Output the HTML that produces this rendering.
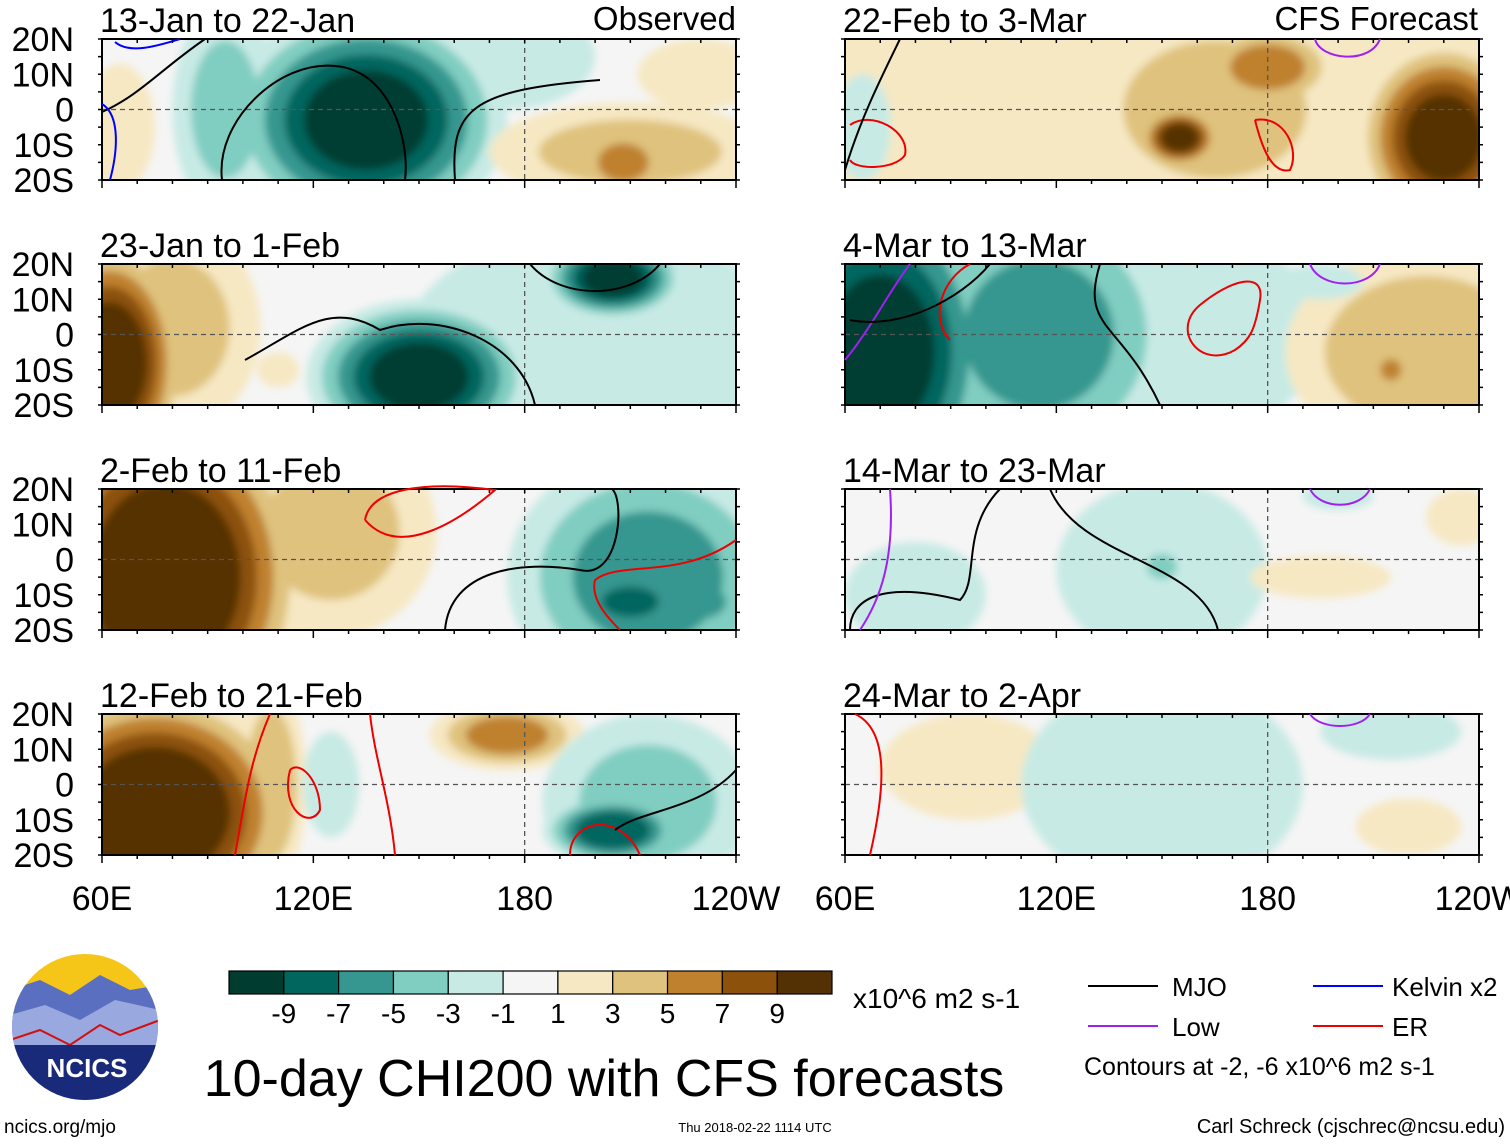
<!DOCTYPE html>
<html><head><meta charset="utf-8">
<style>
body{margin:0;background:#fff;width:1510px;height:1142px;overflow:hidden;font-family:"Liberation Sans",sans-serif;}
svg text{font-family:"Liberation Sans",sans-serif;}
</style></head>
<body>
<svg id="fig" width="1510" height="1142" viewBox="0 0 1510 1142" xmlns="http://www.w3.org/2000/svg">
<defs>
<filter id="blur" x="-20%" y="-20%" width="140%" height="140%"><feGaussianBlur stdDeviation="4"/></filter>
</defs>
</svg>
<script>
// Data arrays
const levels = [-9,-7,-5,-3,-1,1,3,5,7,9];
const levelLabels = ["-9","-7","-5","-3","-1","1","3","5","7","9"];
const palette = ["#003c30","#01665e","#35978f","#80cdc1","#c7eae5","#f5f5f5","#f6e8c3","#dfc27d","#bf812d","#8c510a","#543005"];
const panelTitles = ["13-Jan to 22-Jan","23-Jan to 1-Feb","2-Feb to 11-Feb","12-Feb to 21-Feb","22-Feb to 3-Mar","4-Mar to 13-Mar","14-Mar to 23-Mar","24-Mar to 2-Apr"];
const latTicks = ["20N","10N","0","10S","20S"];
const lonTicks = ["60E","120E","180","120W"];
const lonTickValues = [60,120,180,240];
// anomaly centers per panel: [lon, lat, lonRadius, latRadius, peak value]
const panel1 = [[65,-5,10,18,2],[175,15,25,15,-3],[95,0,15,30,-4],[135,-3,40,32,-10],[210,-12,40,14,4],[208,-15,12,9,7],[230,10,18,10,2]];
const panel2 = [[80,2,25,30,4],[62,-8,22,35,11],[200,-5,55,35,-2.5],[150,-12,32,22,-10],[205,16,20,12,-10],[110,-10,6,5,2]];
const panel3 = [[125,8,30,30,4],[78,-5,40,50,12],[215,-5,40,35,-6],[210,-12,15,8,-9],[230,-12,12,8,-7],[175,0,20,10,-1]];
const panel4 = [[75,-8,40,35,12],[108,0,10,30,5],[175,14,22,10,6],[125,0,8,15,-3],[215,-5,30,25,-4],[205,-13,20,10,-9]];
const panel5 = [[150,0,110,45,2.5],[165,0,40,30,4],[180,12,20,12,6],[155,-8,12,9,10],[230,-8,25,28,10],[65,-5,8,15,-3]];
const panel6 = [[155,0,40,30,-3],[115,0,40,40,-6],[70,-5,35,50,-10],[225,-5,40,30,5],[215,-10,5,5,7],[195,15,12,5,-3]];
const panel7 = [[150,-3,30,25,-3],[150,-2,6,5,-5],[80,-10,20,15,-2],[200,18,10,4,-3],[195,-5,20,6,2],[235,12,10,8,2]];
const panel8 = [[95,5,25,15,2.5],[150,0,40,30,-2],[215,15,20,8,-2],[220,-12,15,8,2.5]];
const panels = [panel1,panel2,panel3,panel4,panel5,panel6,panel7,panel8];

const NS="http://www.w3.org/2000/svg";
const svg=document.getElementById('fig');
function mk(tag,attrs,parent){const e=document.createElementNS(NS,tag);for(const k in attrs)e.setAttribute(k,attrs[k]);(parent||svg).appendChild(e);return e;}
const PW=634,PH=141;
const colX=[102,845], rowY=[39,264,489,714];
function xScale(lon){return (lon-60)/180*PW;}
function yScale(lat){return (20-lat)/40*PH;}
function colorFor(v){let i=0;while(i<levels.length&&v>levels[i])i++;return palette[i];}

panels.forEach((blobs,p)=>{
  const ox=colX[Math.floor(p/4)], oy=rowY[p%4];
  const g=mk('g',{transform:`translate(${ox},${oy})`});
  
  
  const cid='clip'+p;
  const cp=mk('clipPath',{id:cid},g);mk('rect',{x:0,y:0,width:PW,height:PH},cp);
  const inner=mk('g',{'clip-path':`url(#${cid})`},g);
  mk('rect',{x:0,y:0,width:PW,height:PH,fill:palette[5]},inner);
  const fg=mk('g',{filter:'url(#blur)'},inner);
  // draw shells level by level across all blobs so inner levels are never covered by outer ones
  const shells=[];
  blobs.forEach(b=>{
    const [lon,lat,rl,rt,val]=b;const s=Math.sign(val),a=Math.abs(val);
    for(let t=1;t<a;t+=2){shells.push({t:t,lon:lon,lat:lat,rl:rl,rt:rt,s:s,a:a});}
  });
  shells.sort((u,v)=>u.t-v.t);
  shells.forEach(sh=>{
    const f=1-(sh.t-1)/sh.a*0.7;
    const e=mk('ellipse',{cx:xScale(sh.lon),cy:yScale(sh.lat),rx:sh.rl/180*PW*f,ry:sh.rt/40*PH*f,fill:colorFor(sh.s*(sh.t+0.5))},fg);
    
    
  });
  mk('line',{x1:0,x2:PW,y1:yScale(0),y2:yScale(0),stroke:'#555','stroke-dasharray':'5,4','stroke-width':1.3},inner);
  mk('line',{x1:xScale(180),x2:xScale(180),y1:0,y2:PH,stroke:'#555','stroke-dasharray':'5,4','stroke-width':1.3},inner);
  mk('rect',{x:0,y:0,width:PW,height:PH,fill:'none',stroke:'#000','stroke-width':2},g);
  for(let lon=60;lon<=240;lon+=10){const x=xScale(lon),L=(lon%60==0)?8:4;
    mk('line',{x1:x,x2:x,y1:0,y2:4,stroke:'#000','stroke-width':1.5},g);
    mk('line',{x1:x,x2:x,y1:PH,y2:PH+L,stroke:'#000','stroke-width':1.5},g);}
  for(let lat=-20;lat<=20;lat+=5){const y=yScale(lat);
    mk('line',{x1:0,x2:-4,y1:y,y2:y,stroke:'#000','stroke-width':1.5},g);
    mk('line',{x1:PW,x2:PW+4,y1:y,y2:y,stroke:'#000','stroke-width':1.5},g);}
  const t=mk('text',{x:-2,y:-7,'font-size':34},g);t.textContent=panelTitles[p];
  
  
  if(p<4){latTicks.forEach((l,i)=>{const tt=mk('text',{x:-28,y:yScale(20-i*10)+12,'font-size':34,'text-anchor':'end'},g);tt.textContent=l;
    
    });}
  if(p%4==3){lonTicks.forEach((l,i)=>{const tt=mk('text',{x:xScale(lonTickValues[i]),y:PH+55,'font-size':34,'text-anchor':'middle'},g);tt.textContent=l;
    
    });}
});
function cl(d,c){const e=mk('path',{d:d,fill:'none',stroke:c,'stroke-width':2});}
cl('M222,180 C215,120 280,60 335,66 C390,70 410,140 405,180','#000');
cl('M102,112 C140,95 160,70 205,39','#000');
cl('M455,180 C450,110 470,90 600,80','#000');
cl('M115,42 C130,55 160,45 180,39','#00f');
cl('M102,104 C120,115 118,150 110,180','#00f');
cl('M245,360 C300,330 330,300 380,330 C440,310 520,340 535,405','#000');
cl('M530,264 C560,300 630,300 660,264','#000');
cl('M1235,350 C1200,370 1170,330 1200,305 C1230,280 1265,270 1260,300 C1255,330 1250,340 1235,350','#e00');
cl('M950,340 C930,320 940,280 970,264','#e00');
cl('M845,360 C870,330 890,290 910,264','#a020f0');
cl('M850,320 C900,330 960,300 990,264','#000');
cl('M1100,264 C1080,330 1120,320 1160,405','#000');
cl('M365,520 C370,490 420,480 495,490 C460,520 400,560 365,520','#e00');
cl('M445,630 C450,570 520,560 580,570 C620,580 625,500 612,489','#000');
cl('M595,580 C620,560 680,580 736,540 M595,580 C590,600 610,620 620,630','#e00');
cl('M1050,489 C1080,560 1200,560 1218,630','#000');
cl('M850,630 C850,600 880,580 960,600 C980,580 960,530 1000,489','#000');
cl('M860,630 C880,600 895,560 890,489','#a020f0');
cl('M235,855 C245,800 250,760 270,714','#e00');
cl('M370,714 C375,760 390,800 395,855','#e00');
cl('M290,770 C300,760 320,780 320,810 C310,830 280,810 290,770','#e00');
cl('M570,855 C570,820 620,810 640,855','#e00');
cl('M615,830 C640,810 700,810 736,770','#000');
cl('M1255,120 C1260,140 1270,175 1290,170 C1300,150 1285,115 1255,120','#e00');
cl('M850,125 C870,110 910,130 905,155 C895,170 855,170 850,160','#e00');
cl('M845,170 C860,120 880,80 900,39','#000');
cl('M855,714 C890,730 885,790 870,855','#e00');
cl('M1315,39 C1320,60 1370,65 1380,39','#a020f0');
cl('M1310,264 C1320,290 1370,290 1380,264','#a020f0');
cl('M1310,489 C1320,510 1360,510 1370,489','#a020f0');
cl('M1310,714 C1320,730 1360,730 1370,714','#a020f0');

const cb=mk('g',{});
const cbx=229,cbw=603/11;
palette.forEach((c,i)=>{mk('rect',{x:cbx+i*cbw,y:971,width:cbw,height:23,fill:c,stroke:'#000','stroke-width':1.2},cb);});
levelLabels.forEach((l,i)=>{const t=mk('text',{x:cbx+(i+1)*cbw,y:1023,'font-size':28,'text-anchor':'middle'},cb);t.textContent=l;});
function txt(x,y,s,size,name,anchor){const t=mk('text',{x:x,y:y,'font-size':size,'text-anchor':anchor||'start'});t.textContent=s;return t;}
txt(853,1008,'x10^6 m2 s-1',28,'colorbar-units');
txt(604,1096,'10-day CHI200 with CFS forecasts',52,'figure-title','middle');
txt(736,30,'Observed',33,'observed-label','end');
txt(1478,30,'CFS Forecast',33,'forecast-label','end');
const lg=[[1088,'#000','MJO',1172,987],[1313,'#00f','Kelvin x2',1392,987],[1088,'#a020f0','Low',1172,1027],[1313,'#e00','ER',1392,1027]];
lg.forEach(r=>{const l=mk('line',{x1:r[0],x2:r[0]+70,y1:r[4]-1,y2:r[4]-1,stroke:r[1],'stroke-width':2});txt(r[3],r[4]+9,r[2],26,'legend-entry');});
txt(1084,1075,'Contours at -2, -6 x10^6 m2 s-1',25,'contour-note');
txt(4,1133,'ncics.org/mjo',19,'url-label');
txt(755,1132,'Thu 2018-02-22 1114 UTC',13,'timestamp','middle');
txt(1505,1133,'Carl Schreck (cjschrec@ncsu.edu)',20,'author-label','end');
const lo=mk('g',{});
const lc=mk('clipPath',{id:'logoclip'},lo);mk('circle',{cx:85,cy:1027,r:73},lc);
const li=mk('g',{'clip-path':'url(#logoclip)'},lo);
mk('rect',{x:10,y:950,width:150,height:60,fill:'#f5c518'},li);
mk('path',{d:'M10,990 L40,980 L70,995 L100,975 L130,990 L160,985 L160,1110 L10,1110Z',fill:'#5a6fc0'},li);
mk('path',{d:'M10,1015 L45,1005 L80,1020 L115,1000 L160,1010 L160,1110 L10,1110Z',fill:'#9aa8e0'},li);
mk('path',{d:'M10,1040 L40,1030 L70,1045 L100,1025 L120,1035 L160,1020',fill:'none',stroke:'#d01010','stroke-width':2},li);
mk('rect',{x:10,y:1045,width:150,height:70,fill:'#1a2a7a'},li);
const lt=mk('text',{x:87,y:1077,'font-size':26,'font-weight':'bold',fill:'#fff','text-anchor':'middle'},lo);lt.textContent='NCICS';
</script>
</body></html>
